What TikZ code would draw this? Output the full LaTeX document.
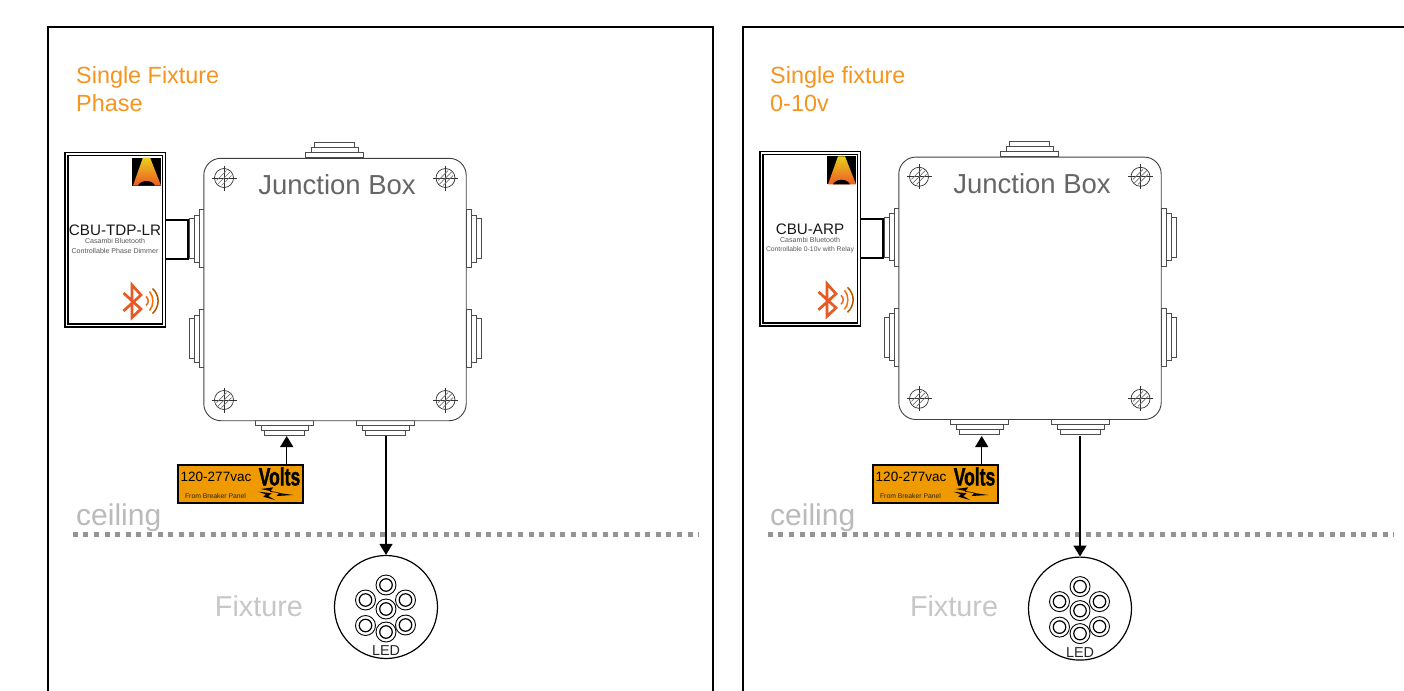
\documentclass[tikz,border=0pt]{standalone}
\usepackage{fontspec}
\setmainfont{Liberation Sans}
\newfontfamily\voltsfont[FakeBold=1.6]{Liberation Sans Bold}
\usetikzlibrary{arrows.meta}
\definecolor{titleorange}{HTML}{F7941D}
\definecolor{labelorange}{HTML}{EE9A00}
\definecolor{btred}{HTML}{E85A24}
\definecolor{logotop}{HTML}{E8CF1C}
\definecolor{logobot}{HTML}{EE5A24}
\newcommand{\fsz}[1]{\fontsize{#1}{#1}\selectfont}
\tikzset{
  x=1pt,y=-1pt,
  frameline/.style={draw=black,line width=2.4pt},
  glandpart/.style={draw=black!70,line width=.8pt,fill=white},
  flow/.style={draw=black,line width=1.3pt,-{Triangle[length=11pt,width=13pt]}},
  boxshape/.style={draw=black!75,line width=.9pt,fill=white,rounded corners=17pt,minimum width=262.4pt,minimum height=262.4pt,inner sep=0pt},
  plabel/.style={inner sep=0pt,text=#1},
  plabel/.default=black,
  ledring/.style={draw=black,line width=.9pt,circle,minimum size=20pt,inner sep=0pt},
  ledcore/.style={draw=black,line width=1.2pt,circle,minimum size=12.5pt,inner sep=0pt},
  screwc/.style={draw=black!80,line width=.7pt},
}
\newcommand{\screw}[2]{%
  \begin{scope}[shift={(#1,#2)}]
    \draw[screwc] (0,0) circle[radius=9.5];
    \draw[screwc] (-12.5,0) -- (12.5,0) (0,-12.5) -- (0,12.5);
    \draw[draw=black!55,line width=.7pt] (-6.5,6.5) -- (6.5,-6.5) (-7.5,2.5) -- (2.5,-7.5) (-2.5,7.5) -- (7.5,-2.5);
  \end{scope}}
\newcommand{\hgland}[3]{%
  \begin{scope}[shift={(#1,#2)},yscale=#3]
    \draw[glandpart] (-20,10) rectangle (20,15);
    \draw[glandpart] (-23.5,5) rectangle (23.5,10);
    \draw[glandpart] (-29,0) rectangle (29,5);
  \end{scope}}
\newcommand{\vgland}[3]{%
  \begin{scope}[shift={(#1,#2)},xscale=#3]
    \draw[glandpart] (10,-20) rectangle (15,20);
    \draw[glandpart] (5,-23.5) rectangle (10,23.5);
    \draw[glandpart] (0,-29) rectangle (5,29);
  \end{scope}}
\newcommand{\ledunit}[3]{%
  \node[ledring] (#1) at (#2,#3) {};
  \node[ledcore] at (#2,#3) {};}
% dx, prefix, title1, title2, module name, sub1, sub2; \pdy box offset, \ldx \ldy fixture offset, \tdx text offset
\newcommand{\fixturepanel}[7]{%
\begin{scope}[shift={(#1,0)},name prefix=#2-]
  \node[plabel=titleorange,anchor=base west] (t1) at (76+\tdx,84) {\fsz{23.4}#3};
  \node[plabel=titleorange,anchor=base west] (t2) at (76+\tdx,111) {\fsz{23.4}#4};
  \node[plabel=black!27,anchor=base west] (ceil) at (76+\tdx,525.3) {\fsz{30}ceiling};
  \coordinate (cl) at (72.7,534);
  \coordinate (cr) at (699,534);
  \draw[draw=black!42,line width=5pt,dash pattern=on 5pt off 5.6pt] (cl) -- (cr);
  \node[plabel=black!22,anchor=center] (fix) at (259,606) {\fsz{28.8}Fixture};
  % fixture
  \begin{scope}[shift={(\ldx,\ldy)}]
    \node[draw=black,line width=1.2pt,circle,minimum size=103pt,inner sep=0pt,fill=white] (led) at (386,607) {};
    \ledunit{l1}{386}{585}
    \ledunit{l2}{365.5}{600}
    \ledunit{l3}{405.5}{600}
    \ledunit{l4}{386}{609}
    \ledunit{l5}{365.5}{625.5}
    \ledunit{l6}{405.5}{625}
    \ledunit{l7}{386}{632}
    \node[plabel=black!85] (ledt) at (386,650.5) {\fsz{14.4}LED};
  \end{scope}
  % supply label
  \node[draw=black,line width=2pt,fill=labelorange,minimum width=125pt,minimum height=37.5pt,inner sep=0pt] (supply) at (240.7,484) {};
  \node[plabel] (v1) at (216,477) {\fsz{13.5}120-277vac};
  \node[plabel=black!85] (v2) at (215.5,496.5) {\fsz{6.8}From Breaker Panel};
  \node[plabel] (v3) at (279.5,476.5) {\scalebox{.7}[1]{\voltsfont\fsz{25}Volts}};
  \fill[black] (260.7,489) -- (273.3,487.3) -- (270,491.7) -- (293.3,495) -- (276.7,496) -- (279.3,492.7) -- cycle;
  \fill[black] (258.3,491.7) -- (271.7,493.3) -- (268.3,496) -- (275,500) -- (263.3,496.7) -- (265.7,494.3) -- cycle;
  \begin{scope}[shift={(0,\pdy)}]
    % box
    \hgland{334.5}{158}{-1}
    \vgland{466}{239}{1}
    \vgland{466}{339}{1}
    \vgland{204}{239}{-1}
    \vgland{204}{339}{-1}
    \hgland{284.7}{421}{1}
    \hgland{385.7}{421}{1}
    \node[boxshape] (box) at (335,290) {};
    \node[plabel=black!60] (jb) at (337,185) {\fsz{27.5}Junction Box};
    \screw{224}{178.5}
    \screw{445.5}{178.5}
    \screw{224}{400.5}
    \screw{445.5}{400.5}
    % module
    \coordinate (c1) at (166,220.5);
    \coordinate (c2) at (188,220.5);
    \coordinate (c3) at (188,259.8);
    \coordinate (c4) at (166,259.8);
    \fill[white] (c1) rectangle (c3);
    \draw[draw=black,line width=2pt] (c1) -- (c2) -- (c3) -- (c4);
    \node[draw=black,line width=1.5pt,double=white,double distance=1.5pt,minimum width=97.5pt,minimum height=171.5pt,inner sep=0pt,fill=white] (mod) at (115,240.3) {};
    \node[plabel=black!90] (mn) at (115,230.5) {\fsz{15.2}#5};
    \node[plabel=black!65] (m1) at (115,241.8) {\fsz{7.1}#6};
    \node[plabel=black!65] (m2) at (115,251) {#7};
    % logo
    \fill[black] (132,158) rectangle (161,186);
    \shade[top color=logotop,bottom color=logobot] (143,158) -- (150,158) -- (161,186) -- (133,186) -- cycle;
    \fill[black] (138,186) .. controls (141,180) and (152,180) .. (155,186) -- cycle;
    % bluetooth mark
    \draw[draw=btred,line width=2.7pt,line join=miter] (123.5,293.5) -- (141,309.5) -- (132,318) -- (132,285.5) -- (141,295.5) -- (123.5,311.5);
    \draw[draw=btred!60!orange,line width=1.5pt] (146,297) .. controls (149,300) and (149,303) .. (146,306);
    \draw[draw=orange!85!red,line width=1.5pt] (149.5,292) .. controls (154,297) and (154,306) .. (149.5,311);
    \draw[draw=orange!70!black,line width=1.5pt] (152.5,289) .. controls (160,296) and (160,307) .. (152.5,314);
  \end{scope}
  \coordinate (g1) at (286.7,436);
  \coordinate (g2) at (386+\ldx,436);
  \draw[flow] (supply.north -| g1) -- (g1);
  \draw[flow] (g2) -- (led.north);
\end{scope}}
\begin{document}
\begin{tikzpicture}
  \useasboundingbox (0,0) rectangle (1404,690);
  \fill[white] (0,0) rectangle (1404,690);
  \begin{scope}
    \clip (0,0) rectangle (1404,690);
    \draw[frameline] (48,700) -- (48,27) -- (713,27) -- (713,700);
    \draw[frameline] (743,700) -- (743,27) -- (1410,27);
    \def\pdy{-.5}\def\ldx{0}\def\ldy{0}\def\tdx{0}
    \fixturepanel{0}{a}{Single Fixture}{Phase}{CBU-TDP-LR}{Casambi Bluetooth}{\fsz{7.1}Controllable Phase Dimmer}
    \def\pdy{-1.7}\def\ldx{-1}\def\ldy{1.6}\def\tdx{-1}
    \fixturepanel{695}{b}{Single fixture}{0-10v}{CBU-ARP}{Casambi Bluetooth}{\fsz{6.75}Controllable 0-10v with Relay}
  \end{scope}
\end{tikzpicture}
\end{document}
